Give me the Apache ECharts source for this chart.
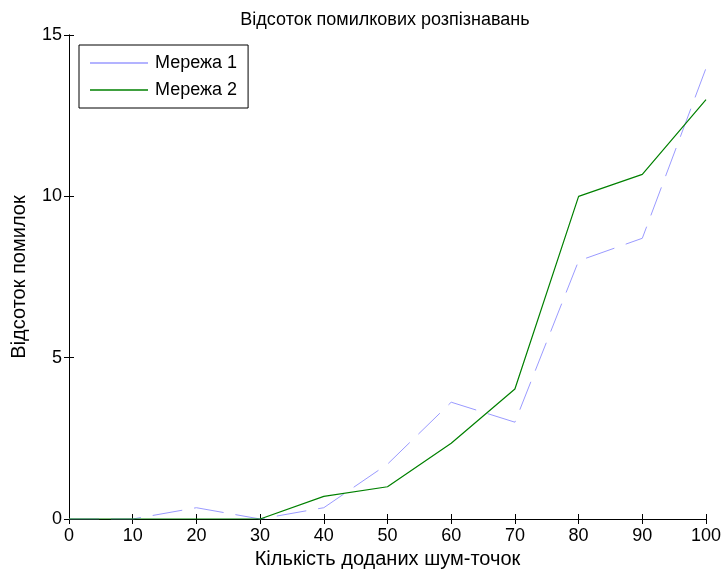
<!DOCTYPE html>
<html><head><meta charset="utf-8">
<script src="https://cdn.jsdelivr.net/npm/echarts@6/dist/echarts.min.js"></script>
<style>html,body{margin:0;padding:0;background:#fff}#c{width:721px;height:569px}</style>
</head><body><div id="c"></div>
<script>
var categories = [0, 10, 20, 30, 40, 50, 60, 70, 80, 90, 100];
var net1 = [0, 0, 0.35, 0, 0.35, 1.7, 3.62, 3.0, 8.0, 8.7, 13.97];
var net2 = [0, 0, 0, 0, 0.7, 1.0, 2.35, 4.03, 10.0, 10.68, 13.0];
var seriesNames = ['Мережа 1', 'Мережа 2'];
var titleText = 'Відсоток помилкових розпізнавань';
var xName = 'Кількість доданих шум-точок';
var yName = 'Відсоток помилок';

function pairs(v){ return categories.map(function(x,i){ return [x, v[i]]; }); }
var font = 'Liberation Sans, Arial, sans-serif';
var chart = echarts.init(document.getElementById('c'));
var axLine = {show:true, lineStyle:{color:'#000', width:1}};
var tick = {show:true, inside:true, length:5, lineStyle:{color:'#000'}};
chart.setOption({
  animation:false,
  backgroundColor:'#fff',
  title:{text:titleText, left:380, textAlign:'center', top:6,
    textStyle:{fontFamily:font, fontSize:18, fontWeight:'normal', color:'#000'}},
  grid:{left:69, right:15, top:35, bottom:50, containLabel:false, outerBoundsMode:'none'},
  legend:{data:[{name:seriesNames[0], icon:'rect'},{name:seriesNames[1], icon:'rect'}],
    orient:'vertical', left:79, top:45,
    borderColor:'#000', borderWidth:1, padding:[9,11,9,11], itemGap:9,
    itemWidth:58, itemHeight:1.5, backgroundColor:'#fff',
    textStyle:{fontFamily:font, fontSize:18, color:'#000', padding:[0,0,0,2]}},
  xAxis:[{type:'value', min:0, max:100, interval:10, name:xName, nameLocation:'middle', nameGap:29,
    nameTextStyle:{fontFamily:font, fontSize:20, color:'#000'},
    axisLine:axLine, axisTick:tick, splitLine:{show:false},
    axisLabel:{fontFamily:font, fontSize:18, color:'#000', margin:8}},
   {type:'value', position:'top', min:0, max:100, interval:10, axisLine:axLine, axisTick:tick,
    axisLabel:{show:false}, splitLine:{show:false}}],
  yAxis:[{type:'value', min:0, max:15, interval:5, name:yName, nameLocation:'middle', nameGap:40,
    nameTextStyle:{fontFamily:font, fontSize:20, color:'#000'},
    axisLine:axLine, axisTick:tick, splitLine:{show:false},
    axisLabel:{fontFamily:font, fontSize:18, color:'#000', margin:7}},
   {type:'value', position:'right', min:0, max:15, interval:5, axisLine:axLine, axisTick:tick,
    axisLabel:{show:false}, splitLine:{show:false}}],
  series:[
    {name:seriesNames[0], type:'line', data:pairs(net1), showSymbol:false, symbol:'none',
     lineStyle:{color:'#9a9aff', width:1, type:[30,12]}, itemStyle:{color:'#9a9aff'}, z:3},
    {name:seriesNames[1], type:'line', data:pairs(net2), showSymbol:false, symbol:'none',
     lineStyle:{color:'#008000', width:1.2}, itemStyle:{color:'#008000'}, z:4}
  ]
});
</script></body></html>
